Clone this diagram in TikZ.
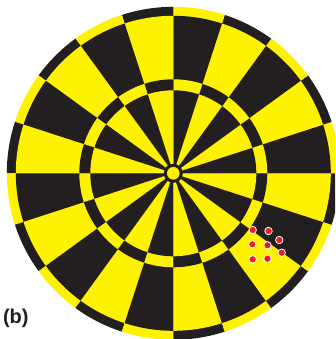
\documentclass[tikz,border=0pt]{standalone}
\usepackage{fontspec}
\setmainfont{Liberation Sans}
\definecolor{dkb}{HTML}{231F20}
\definecolor{yel}{HTML}{FFF200}
\definecolor{rd}{HTML}{ED1C24}
\tikzset{
  dot/.style={circle, fill=rd, draw=white, line width=0.8pt, minimum size=7.4pt, inner sep=0pt},
  lbl/.style={font=\bfseries\fontsize{20}{20}\selectfont, text=dkb, inner sep=0pt}
}
\begin{document}
\begin{tikzpicture}[x=1pt,y=1pt]
\useasboundingbox (0,0) rectangle (335,339);
\clip (0,0) rectangle (335,339);
\begin{scope}[shift={(173.3,165.7)}]
  \foreach \k in {0,...,19} {
    \pgfmathsetmacro\a{18*\k}
    \pgfmathsetmacro\b{18*\k+18}
    \ifodd\k \def\reg{yel}\def\rng{dkb}\else \def\reg{dkb}\def\rng{yel}\fi
    \fill[\rng] (0,0) -- (\a:166.5) arc[start angle=\a, end angle=\b, radius=166.5] -- cycle;
    \fill[\reg] (0,0) -- (\a:157.5) arc[start angle=\a, end angle=\b, radius=157.5] -- cycle;
    \fill[\rng] (0,0) -- (\a:94) arc[start angle=\a, end angle=\b, radius=94] -- cycle;
    \fill[\reg] (0,0) -- (\a:83) arc[start angle=\a, end angle=\b, radius=83] -- cycle;
  }
  \fill[dkb] (0,0) circle[radius=9.5];
  \fill[yel] (0,0) circle[radius=6.3];
\end{scope}
\node[dot] (d1) at (252.7,109) {};
\node[dot] (d2) at (268.5,108) {};
\node[dot] (d3) at (279.3,99) {};
\node[dot] (d4) at (252.3,94.7) {};
\node[dot] (d5) at (267.5,93.7) {};
\node[dot] (d6) at (281.7,86.3) {};
\node[dot] (d7) at (252.7,79.7) {};
\node[dot] (d8) at (267.5,80.3) {};
\node[lbl] (lab) at (15.8,21) {(b)};
\end{tikzpicture}
\end{document}
